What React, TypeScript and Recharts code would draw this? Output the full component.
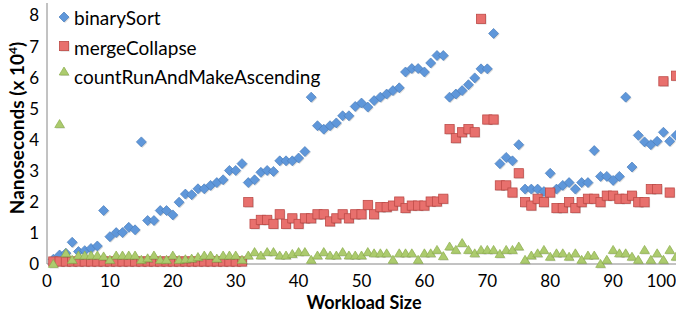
import React from 'react';
import { ScatterChart, Scatter, XAxis, YAxis, Legend } from 'recharts';

const FONT = 'Lato, "Open Sans", sans-serif';

// nanoseconds x 10^4, one value per workload size 1..100
const binarySort = [
  0.15, 0.29, 0.35, 0.7, 0.4, 0.43, 0.5, 0.58, 1.72, 0.88,
  1.01, 1.01, 1.18, 1.1, 3.93, 1.4, 1.4, 1.72, 1.72, 1.58,
  1.99, 2.25, 2.23, 2.42, 2.42, 2.53, 2.62, 2.71, 3.01, 3.01,
  3.23, 2.62, 2.71, 2.95, 3.01, 2.98, 3.32, 3.32, 3.32, 3.41,
  3.62, 5.37, 4.45, 4.34, 4.45, 4.54, 4.77, 4.77, 5.07, 5.18,
  5.05, 5.26, 5.37, 5.47, 5.58, 5.67, 6.18, 6.29, 6.29, 6.18,
  6.47, 6.71, 6.71, 5.37, 5.47, 5.58, 5.77, 5.99, 6.28, 6.28,
  7.42, 3.23, 3.43, 3.32, 3.84, 2.41, 2.41, 2.41, 2.33, 2.92,
  2.41, 2.53, 2.62, 2.41, 2.62, 2.62, 3.65, 2.82, 2.82, 2.69,
  2.82, 5.37, 3.12, 4.14, 3.93, 3.84, 3.95, 4.24, 3.95, 4.14,
];

const mergeCollapse = [
  0.08, 0.08, 0.08, 0.08, 0.08, 0.08, 0.08, 0.08, 0.08, 0.08,
  0.08, 0.08, 0.08, 0.08, 0.08, 0.08, 0.08, 0.08, 0.08, 0.08,
  0.08, 0.08, 0.08, 0.08, 0.08, 0.08, 0.08, 0.08, 0.08, 0.08,
  0.08, 1.99, 1.29, 1.42, 1.42, 1.29, 1.6, 1.29, 1.47, 1.29,
  1.47, 1.47, 1.6, 1.6, 1.37, 1.47, 1.6, 1.47, 1.6, 1.6,
  1.9, 1.6, 1.83, 1.83, 1.88, 2.01, 1.8, 1.88, 1.88, 1.88,
  2.01, 2.01, 2.1, 4.34, 4.05, 4.24, 4.34, 4.24, 7.89, 4.65,
  4.65, 2.53, 2.53, 2.3, 2.92, 1.99, 1.88, 2.1, 1.99, 2.3,
  1.8, 1.8, 1.99, 1.8, 1.99, 2.1, 2.1, 1.99, 2.2, 2.2,
  2.1, 2.1, 2.2, 1.99, 1.99, 2.41, 2.41, 5.88, 2.3, 6.06,
];

const countRunAndMakeAscending = [
  0.02, 4.52, 0.36, 0.15, 0.29, 0.29, 0.29, 0.29, 0.26, 0.15,
  0.29, 0.29, 0.29, 0.29, 0.15, 0.2, 0.29, 0.15, 0.15, 0.29,
  0.15, 0.17, 0.19, 0.24, 0.29, 0.29, 0.19, 0.29, 0.29, 0.29,
  0.15, 0.29, 0.4, 0.29, 0.4, 0.4, 0.29, 0.29, 0.34, 0.4,
  0.4, 0.15, 0.29, 0.4, 0.29, 0.29, 0.4, 0.29, 0.29, 0.29,
  0.4, 0.36, 0.36, 0.36, 0.15, 0.36, 0.36, 0.36, 0.15, 0.36,
  0.36, 0.47, 0.27, 0.58, 0.47, 0.69, 0.47, 0.36, 0.47, 0.47,
  0.47, 0.34, 0.47, 0.47, 0.58, 0.15, 0.29, 0.36, 0.47, 0.25,
  0.36, 0.36, 0.25, 0.36, 0.15, 0.29, 0.29, 0.02, 0.15, 0.47,
  0.36, 0.36, 0.25, 0.15, 0.47, 0.15, 0.36, 0.15, 0.47, 0.25,
];

const xTicks = [0, 10, 20, 30, 40, 50, 60, 70, 80, 90, 100];
const yTicks = [0, 1, 2, 3, 4, 5, 6, 7, 8];

const toPoints = (values: number[]) => values.map((v, i) => ({ size: i + 1, ns: v }));

const blueData = toPoints(binarySort);
const redData = toPoints(mergeCollapse);
const greenData = toPoints(countRunAndMakeAscending);

const BLUE = '#5F97DA';
const BLUE_EDGE = '#4A7EBB';
const RED = '#E8706D';
const RED_EDGE = '#BE4B48';
const GREEN = '#ACCB6E';
const GREEN_EDGE = '#8DAF4E';

const Diamond = ({ cx, cy }: any) => {
  const r = 5;
  const pts = (dx: number) =>
    `${cx + dx},${cy - r + dx} ${cx + r + dx},${cy + dx} ${cx + dx},${cy + r + dx} ${cx - r + dx},${cy + dx}`;
  return (
    <g>
      <polygon points={pts(1)} fill="rgba(0,0,0,0.15)" />
      <polygon points={pts(0)} fill={BLUE} stroke={BLUE_EDGE} strokeWidth={0.7} />
    </g>
  );
};

const Square = ({ cx, cy }: any) => {
  const r = 4.6;
  return (
    <g>
      <rect x={cx - r + 1} y={cy - r + 1} width={2 * r} height={2 * r} fill="rgba(0,0,0,0.15)" />
      <rect x={cx - r} y={cy - r} width={2 * r} height={2 * r} fill={RED} stroke={RED_EDGE} strokeWidth={0.8} />
    </g>
  );
};

const Triangle = ({ cx, cy }: any) => {
  const w = 4.8;
  const h = 4;
  const pts = (dx: number) =>
    `${cx + dx},${cy - h + dx} ${cx + w + dx},${cy + h + dx} ${cx - w + dx},${cy + h + dx}`;
  return (
    <g>
      <polygon points={pts(1)} fill="rgba(0,0,0,0.15)" />
      <polygon points={pts(0)} fill={GREEN} stroke={GREEN_EDGE} strokeWidth={0.7} />
    </g>
  );
};

const XTick = ({ x, y, payload }: any) => {
  const last = payload.value === 100;
  return (
    <text
      x={last ? 676 : x}
      y={y}
      dy="0.71em"
      textAnchor={last ? 'end' : 'middle'}
      fontFamily={FONT}
      fontSize={17}
      fill="#000"
    >
      {payload.value}
    </text>
  );
};

const YTitle = () => (
  <text
    transform="translate(24,128) rotate(-90)"
    textAnchor="middle"
    fontFamily={FONT}
    fontWeight="bold"
    fontSize={19}
    fill="#000"
  >
    Nanoseconds (x 10
    <tspan dy={-7} fontSize={12}>4</tspan>
    <tspan dy={7}>)</tspan>
  </text>
);

const XTitle = () => (
  <text x={364} y={309} textAnchor="middle" fontFamily={FONT} fontWeight="bold" fontSize={18} fill="#000">
    Workload Size
  </text>
);

const legendRows = [
  { name: 'binarySort', Icon: Diamond },
  { name: 'mergeCollapse', Icon: Square },
  { name: 'countRunAndMakeAscending', Icon: Triangle },
];

const LegendBox = () => (
  <div style={{ fontFamily: FONT, fontSize: 19, color: '#000' }}>
    {legendRows.map(({ name, Icon }, i) => (
      <div key={name} style={{ display: 'flex', alignItems: 'center', height: 29.5 }}>
        <svg width={14} height={14} style={{ marginRight: 2, position: 'relative', top: i === 2 ? -5 : 0 }}>
          <Icon cx={6} cy={6} />
        </svg>
        <span>{name}</span>
      </div>
    ))}
  </div>
);

const App: React.FC = () => {
  return (
    <div style={{ position: 'absolute', left: 0, top: 0 }}>
      <ScatterChart width={676} height={313} margin={{ top: 3, right: 0, bottom: 0, left: 0 }}>
        <XAxis
          type="number"
          dataKey="size"
          domain={[0, 100]}
          ticks={xTicks}
          tick={<XTick />}
          tickLine={false}
          tickMargin={5}
          height={49}
          axisLine={{ stroke: '#868686' }}
          label={<XTitle />}
        />
        <YAxis
          type="number"
          dataKey="ns"
          domain={[0, 8.4]}
          ticks={yTicks}
          tick={{ fontFamily: FONT, fontSize: 17, fill: '#000' }}
          tickLine={false}
          width={47}
          axisLine={{ stroke: '#868686' }}
          label={<YTitle />}
        />
        <Legend
          layout="vertical"
          align="center"
          verticalAlign="middle"
          wrapperStyle={{ left: 58, top: 3, width: 'auto' }}
          content={<LegendBox />}
        />
        <Scatter name="binarySort" data={blueData} shape={<Diamond />} isAnimationActive={false} />
        <Scatter name="mergeCollapse" data={redData} shape={<Square />} isAnimationActive={false} />
        <Scatter name="countRunAndMakeAscending" data={greenData} shape={<Triangle />} isAnimationActive={false} />
      </ScatterChart>
    </div>
  );
};

export default App;
